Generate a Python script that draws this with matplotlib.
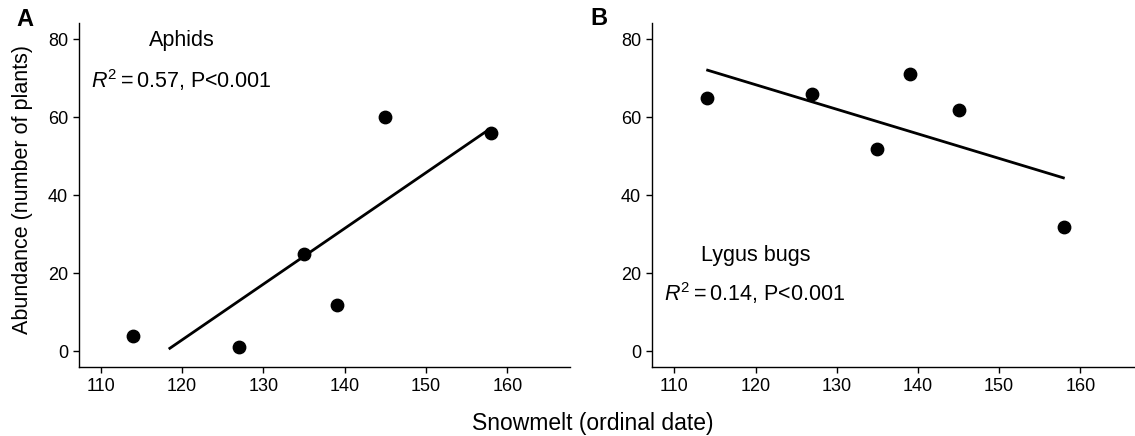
import matplotlib
matplotlib.use("Agg")
import matplotlib.pyplot as plt

plt.rcParams['font.family'] = ['Liberation Sans', 'DejaVu Sans']
plt.rcParams['mathtext.fontset'] = 'custom'
plt.rcParams['mathtext.rm'] = 'Liberation Sans'
plt.rcParams['mathtext.it'] = 'Liberation Sans:italic'

# Data
snowmelt = [114, 127, 135, 139, 145, 158]
aphids = [4, 1, 25, 12, 60, 56]
lygus = [65, 66, 52, 71, 62, 32]

aphid_fit_x = [118.5, 157.6]
aphid_fit_y = [0.8, 56.7]
lygus_fit_x = [114.1, 157.9]
lygus_fit_y = [72.1, 44.5]

xticks = [110, 120, 130, 140, 150, 160]
yticks = [0, 20, 40, 60, 80]

fig = plt.figure(figsize=(11.35, 4.36), dpi=100)
axA = fig.add_axes([79/1135, 69/436, 491/1135, 344/436])
axB = fig.add_axes([652/1135, 69/436, 482/1135, 344/436])

def style(ax, xlim):
    ax.set_xlim(*xlim)
    ax.set_ylim(-4, 84.2)
    ax.set_xticks(xticks)
    ax.set_yticks(yticks)
    for s in ['top', 'right']:
        ax.spines[s].set_visible(False)
    for s in ['left', 'bottom']:
        ax.spines[s].set_linewidth(1.0)
    ax.tick_params(direction='out', length=4, width=1.0, labelsize=13, pad=4)

axA.scatter(snowmelt, aphids, s=80, color='black', zorder=3)
axA.plot(aphid_fit_x, aphid_fit_y, color='black', lw=2.0)
style(axA, (107.33, 167.7))
axA.text(120, 79.8, 'Aphids', ha='center', va='center', fontsize=15.5)
axA.text(108.8, 69.6, r'$R^2{=}$0.57, P<0.001', ha='left', va='center', fontsize=15.5)

axB.scatter(snowmelt, lygus, s=80, color='black', zorder=3)
axB.plot(lygus_fit_x, lygus_fit_y, color='black', lw=2.0)
style(axB, (107.25, 166.6))
axB.text(120, 24.7, 'Lygus bugs', ha='center', va='center', fontsize=15.5)
axB.text(108.7, 14.9, r'$R^2{=}$0.14, P<0.001', ha='left', va='center', fontsize=15.5)

fig.text(25/1135, 1 - 19/436, 'A', fontsize=17, fontweight='bold', ha='center', va='center')
fig.text(598.5/1135, 1 - 18.5/436, 'B', fontsize=17, fontweight='bold', ha='center', va='center')

fig.text(593/1135, 6/436, 'Snowmelt (ordinal date)', ha='center', va='baseline', fontsize=16.5)
fig.text(22.5/1135, 1 - 190/436, 'Abundance (number of plants)', ha='center', va='center',
         rotation=90, fontsize=15.5)

fig.savefig('out.png', dpi=100)
